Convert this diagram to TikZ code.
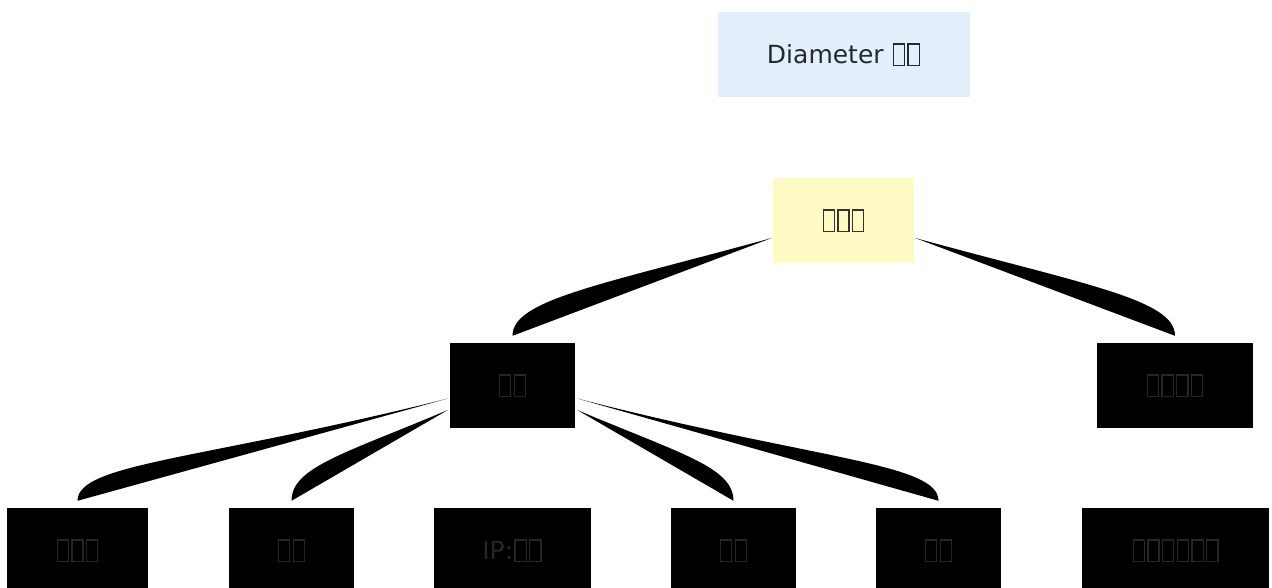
\documentclass[tikz,border=0pt]{standalone}
\usepackage{fontspec}
\setmainfont{DejaVu Sans}
\usetikzlibrary{calc}
\definecolor{diablue}{HTML}{E3F0FB}
\definecolor{diayellow}{HTML}{FFF9C4}
\definecolor{diatext}{HTML}{24292F}
\definecolor{diadim}{HTML}{333333}
\definecolor{diadark}{HTML}{262626}
% an empty glyph box, as the reference prints its missing characters
\newcommand{\tofu}{\kern1.1pt{\fboxsep=0pt\fboxrule=1.3pt\fbox{\rule[-1.5pt]{0pt}{20pt}\kern9.9pt}}\kern1.1pt}

\tikzset{
  box/.style={inner sep=0pt,minimum height=85pt,font=\fontsize{25}{29}\selectfont},
  darkbox/.style={box,fill=black,text=diadark},
}

\begin{document}
\begin{tikzpicture}[x=1pt,y=-1pt]
    \useasboundingbox (0,0) rectangle (1272,587);
    \node[box,fill=diablue,text=diatext,minimum width=252pt] (title) at (844,54.5) {Diameter \tofu\tofu};
    \node[box,fill=diayellow,text=diadim,minimum width=141pt] (root) at (843.5,220.5) {\tofu\tofu\tofu};
    \node[darkbox,minimum width=125pt] (proto) at (512.5,385.5) {\tofu\tofu};
    \node[darkbox,minimum width=156pt] (side) at (1175,385.5) {\tofu\tofu\tofu\tofu};
    \node[darkbox,minimum width=141pt] (leafa) at (77.5,550.5) {\tofu\tofu\tofu};
    \node[darkbox,minimum width=125pt] (leafb) at (291.5,550.5) {\tofu\tofu};
    \node[darkbox,minimum width=157pt] (leafip) at (512.5,550.5) {IP:\tofu\tofu};
    \node[darkbox,minimum width=125pt] (leafc) at (733.5,550.5) {\tofu\tofu};
    \node[darkbox,minimum width=125pt] (leafd) at (938.5,550.5) {\tofu\tofu};
    \node[darkbox,minimum width=187pt] (leafe) at (1175.5,550.5) {\tofu\tofu\tofu\tofu\tofu\tofu};
    % where the branches leave their parents
    \coordinate (rootl) at ($(root.west)+(-1,17.5)$);
    \coordinate (rootr) at ($(root.east)+(1,17.5)$);
    \coordinate (protolh) at ($(proto.west)+(-2,13)$);
    \coordinate (protoll) at ($(proto.west)+(-2,24.5)$);
    \coordinate (protorl) at ($(proto.east)+(2,24.5)$);
    \coordinate (protorh) at ($(proto.east)+(2,13)$);
    \foreach \a/\b/\k in {rootl/proto/0.48,rootr/side/0.48,protolh/leafa/0.6,protoll/leafb/0.48,protorl/leafc/0.48,protorh/leafd/0.6}
      \fill let \p1=(\a), \p2=($(\b.north)+(0,-7)$) in
        (\p1) .. controls (\x1+0.66*\x2-0.66*\x1, \y1+\k*\y2-\k*\y1) and (\x2, \y2+0.37*\y1-0.37*\y2) .. (\p2) -- cycle;
  \end{tikzpicture}
\end{document}
